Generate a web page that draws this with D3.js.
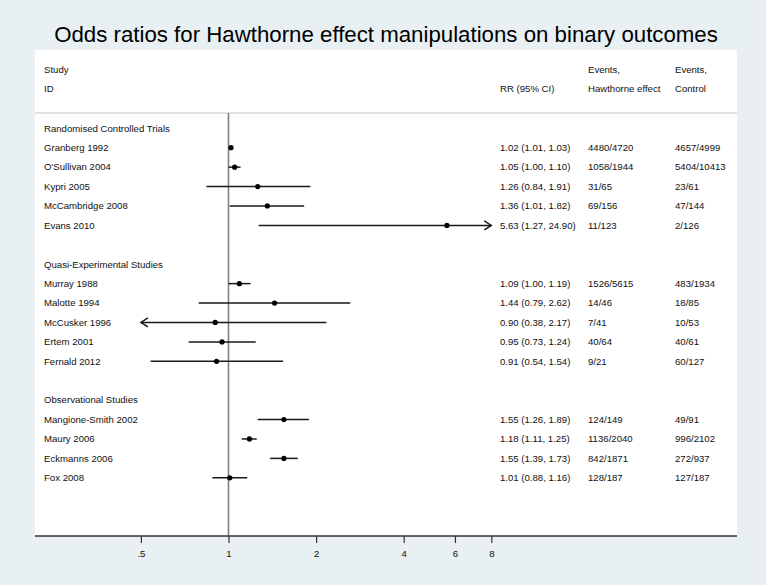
<!DOCTYPE html>
<html>
<head>
<meta charset="utf-8">
<script src="https://cdn.jsdelivr.net/npm/d3@7"></script>
<style>
  html, body { margin: 0; padding: 0; background: #e8f0f3; }
  svg { display: block; font-family: "Liberation Sans", Arial, sans-serif; }
</style>
</head>
<body>
<svg id="chart" width="766" height="585"></svg>
<script>
const title = "Odds ratios for Hawthorne effect manipulations on binary outcomes";
const groups = ["Randomised Controlled Trials", "Quasi-Experimental Studies", "Observational Studies"];
const studies = ["Granberg 1992", "O'Sullivan 2004", "Kypri 2005", "McCambridge 2008", "Evans 2010",
  "Murray 1988", "Malotte 1994", "McCusker 1996", "Ertem 2001", "Fernald 2012",
  "Mangione-Smith 2002", "Maury 2006", "Eckmanns 2006", "Fox 2008"];
const studyGroup = [0,0,0,0,0, 1,1,1,1,1, 2,2,2,2];
const rr = [1.02, 1.05, 1.26, 1.36, 5.63, 1.09, 1.44, 0.90, 0.95, 0.91, 1.55, 1.18, 1.55, 1.01];
const lower = [1.01, 1.00, 0.84, 1.01, 1.27, 1.00, 0.79, 0.38, 0.73, 0.54, 1.26, 1.11, 1.39, 0.88];
const upper = [1.03, 1.10, 1.91, 1.82, 24.90, 1.19, 2.62, 2.17, 1.24, 1.54, 1.89, 1.25, 1.73, 1.16];
const eventsH = ["4480/4720", "1058/1944", "31/65", "69/156", "11/123",
  "1526/5615", "14/46", "7/41", "40/64", "9/21",
  "124/149", "1136/2040", "842/1871", "128/187"];
const eventsC = ["4657/4999", "5404/10413", "23/61", "47/144", "2/126",
  "483/1934", "18/85", "10/53", "40/61", "60/127",
  "49/91", "996/2102", "272/937", "127/187"];
const tickValues = [0.5, 1, 2, 4, 6, 8];
const tickLabels = [".5", "1", "2", "4", "6", "8"];

const svg = d3.select("#chart");
const W = 766, H = 585;
const panel = {x0: 35, x1: 737, y0: 50, y1: 536};
const textColor = "#111";
const fs = 9.6;

svg.append("rect").attr("width", W).attr("height", H).attr("fill", "#e8f0f3");
svg.append("rect").attr("x", panel.x0).attr("y", panel.y0)
  .attr("width", panel.x1 - panel.x0).attr("height", panel.y1 - panel.y0).attr("fill", "#fff");

// Title, fitted to measured width
const t = svg.append("text").attr("x", 386).attr("y", 42).attr("text-anchor", "middle")
  .attr("font-size", 20).attr("fill", "#000").text(title);
const tw = t.node().getComputedTextLength();
t.attr("font-size", 20 * 664 / tw);

// Row layout
const rows = [];
groups.forEach((g, gi) => {
  rows.push({type: "group", label: g});
  studies.forEach((s, i) => { if (studyGroup[i] === gi) rows.push({type: "study", i}); });
  if (gi < groups.length - 1) rows.push({type: "blank"});
});
const y = d3.scaleLinear().domain([0, rows.length - 1]).range([128.3, 477.8]);
const x = d3.scaleLog().domain([0.5, 8]).range([140.9, 491.3]);

// Header
const colX = {study: 44, rr: 500, eh: 588, ec: 675};
const hdr = [
  [colX.study, 70, "Study"], [colX.study, 89, "ID"], [colX.rr, 89, "RR (95% CI)"],
  [colX.eh, 70, "Events,"], [colX.eh, 89, "Hawthorne effect"],
  [colX.ec, 70, "Events,"], [colX.ec, 89, "Control"]
];
svg.append("g").selectAll("text").data(hdr).join("text")
  .attr("x", d => d[0]).attr("y", d => d[1]).attr("dy", "0.35em")
  .attr("font-size", fs).attr("fill", textColor).text(d => d[2]);

svg.append("line").attr("x1", panel.x0).attr("x2", panel.x1).attr("y1", 113).attr("y2", 113)
  .attr("stroke", "#c4c4c4").attr("stroke-width", 1);

// Null line
svg.append("line").attr("x1", x(1)).attr("x2", x(1)).attr("y1", 113).attr("y2", panel.y1)
  .attr("stroke", "#808080").attr("stroke-width", 1.6);

// Text columns
const fmt = v => v.toFixed(2);
const tg = svg.append("g").attr("font-size", fs).attr("fill", textColor);
rows.forEach((r, k) => {
  if (r.type === "group") {
    tg.append("text").attr("x", colX.study).attr("y", y(k)).attr("dy", "0.35em").text(r.label);
  } else if (r.type === "study") {
    const i = r.i;
    tg.append("text").attr("x", colX.study).attr("y", y(k)).attr("dy", "0.35em").text(studies[i]);
    tg.append("text").attr("x", colX.rr).attr("y", y(k)).attr("dy", "0.35em")
      .text(`${fmt(rr[i])} (${fmt(lower[i])}, ${fmt(upper[i])})`);
    tg.append("text").attr("x", colX.eh).attr("y", y(k)).attr("dy", "0.35em").text(eventsH[i]);
    tg.append("text").attr("x", colX.ec).attr("y", y(k)).attr("dy", "0.35em").text(eventsC[i]);
  }
});

// CIs and points
const [dmin, dmax] = x.domain();
const mg = svg.append("g");
rows.forEach((r, k) => {
  if (r.type !== "study") return;
  const i = r.i, yy = y(k);
  const lo = Math.max(lower[i], dmin), hi = Math.min(upper[i], dmax);
  mg.append("line").attr("x1", x(lo)).attr("x2", x(hi)).attr("y1", yy).attr("y2", yy)
    .attr("stroke", "#1a1a1a").attr("stroke-width", 1.5);
  if (upper[i] > dmax) {
    const xe = x(dmax);
    mg.append("path").attr("d", `M${xe - 7},${yy - 4.5}L${xe},${yy}L${xe - 7},${yy + 4.5}`)
      .attr("fill", "none").attr("stroke", "#1a1a1a").attr("stroke-width", 1.5);
  }
  if (lower[i] < dmin) {
    const xs = x(dmin);
    mg.append("path").attr("d", `M${xs + 7},${yy - 4.5}L${xs},${yy}L${xs + 7},${yy + 4.5}`)
      .attr("fill", "none").attr("stroke", "#1a1a1a").attr("stroke-width", 1.5);
  }
  mg.append("circle").attr("cx", x(rr[i])).attr("cy", yy).attr("r", 2.6).attr("fill", "#000");
});

// Axis
svg.append("line").attr("x1", panel.x0).attr("x2", panel.x1).attr("y1", panel.y1).attr("y2", panel.y1)
  .attr("stroke", "#333").attr("stroke-width", 1.4);
const axis = d3.axisBottom(x).tickValues(tickValues)
  .tickFormat((d, i) => tickLabels[i]).tickSize(7).tickPadding(7);
const ag = svg.append("g").attr("transform", `translate(0,${panel.y1})`).call(axis);
ag.select(".domain").remove();
ag.selectAll(".tick line").attr("stroke", "#333").attr("stroke-width", 1.2);
ag.selectAll(".tick text").attr("font-size", fs).attr("fill", textColor)
  .attr("font-family", "Liberation Sans, Arial, sans-serif");
</script>
</body>
</html>
